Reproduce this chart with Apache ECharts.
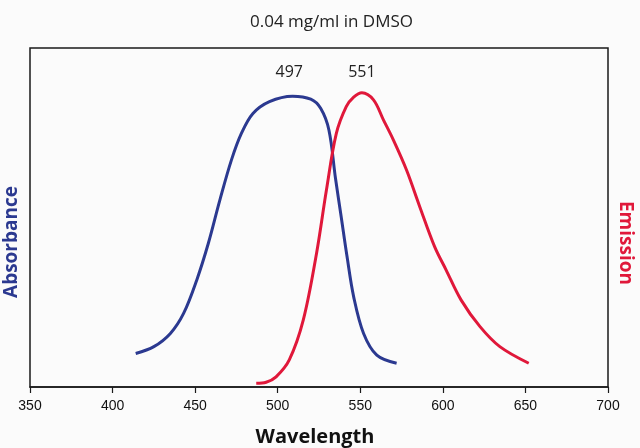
<!DOCTYPE html>
<html>
<head>
<meta charset="utf-8">
<style>
  html, body { margin: 0; padding: 0; background: #fbfbfb; }
  #chart { width: 640px; height: 448px; }
</style>
<script src="https://cdn.jsdelivr.net/npm/echarts@6/dist/echarts.min.js"></script>
</head>
<body>
<div id="chart"></div>
<script>
// wavelength (nm) / relative intensity
var absWl = [414, 425, 435, 443, 451, 458, 465, 472, 478, 485, 495, 509, 520, 526, 531, 535, 538.5, 542, 546, 552, 560, 572];
var absVal = [0.099, 0.119, 0.158, 0.217, 0.316, 0.424, 0.552, 0.670, 0.748, 0.807, 0.842, 0.858, 0.849, 0.822, 0.758, 0.615, 0.500, 0.384, 0.266, 0.158, 0.094, 0.070];

var emWl = [487, 493, 499, 507, 515.5, 523.5, 529.5, 535.5, 541.5, 546, 551, 558, 564, 570, 578, 586, 595, 602, 611, 622.5, 634.5, 652];
var emVal = [0.011, 0.014, 0.030, 0.080, 0.198, 0.394, 0.581, 0.748, 0.827, 0.855, 0.868, 0.847, 0.788, 0.729, 0.640, 0.532, 0.414, 0.345, 0.257, 0.178, 0.119, 0.070];

var xTicks = [350, 700, 50];   // min, max, step
var peakLabels = ['497', '551'];
var peakLabelPos = [[507, 0.929], [551, 0.929]];

function pairs(xs, ys) {
  var out = [];
  for (var i = 0; i < xs.length; i++) out.push([xs[i], ys[i]]);
  return out;
}

var chart = echarts.init(document.getElementById('chart'));

var option = {
  backgroundColor: '#fbfbfb',
  animation: false,
  title: {
    text: '0.04 mg/ml in DMSO',
    left: 245,
    top: 9,
    textStyle: { fontFamily: 'Open Sans', fontSize: 17, fontWeight: 'normal', color: '#222' }
  },
  grid: {
    left: 30, right: 32, top: 48, bottom: 61,
    outerBoundsMode: 'none',
    containLabel: false,
    show: true,
    borderColor: '#1a1a1a',
    borderWidth: 1.5,
    backgroundColor: 'transparent'
  },
  graphic: [
    {
      type: 'text', x: 12, y: 242, rotation: Math.PI / 2,
      style: {
        text: 'Absorbance', fill: '#2b3990',
        font: 'bold 19px "Open Sans"',
        textAlign: 'center', textVerticalAlign: 'middle'
      }
    },
    {
      type: 'text', x: 625, y: 243, rotation: -Math.PI / 2,
      style: {
        text: 'Emission', fill: '#e0183a',
        font: 'bold 19px "Open Sans"',
        textAlign: 'center', textVerticalAlign: 'middle'
      }
    }
  ],
  xAxis: {
    type: 'value',
    min: xTicks[0],
    max: xTicks[1],
    interval: xTicks[2],
    name: 'Wavelength',
    nameLocation: 'middle',
    nameGap: 40,
    nameTextStyle: { fontFamily: 'Open Sans', fontSize: 20, fontWeight: 'bold', color: '#111', padding: [0, 8, 0, 0] },
    axisLine: { lineStyle: { color: '#1a1a1a', width: 1.5 } },
    axisTick: { length: 6, lineStyle: { color: '#1a1a1a', width: 1.2 } },
    axisLabel: { fontFamily: 'Liberation Sans', fontSize: 14, color: '#111', margin: 12 },
    splitLine: { show: false }
  },
  yAxis: {
    type: 'value', min: 0, max: 1,
    axisLine: { show: false }, axisTick: { show: false },
    axisLabel: { show: false }, splitLine: { show: false }
  },
  series: [
    {
      name: 'Absorbance',
      type: 'line',
      smooth: 0.35,
      showSymbol: false,
      data: pairs(absWl, absVal),
      lineStyle: { color: '#2b3990', width: 3 },
      itemStyle: { color: '#2b3990' },
      markPoint: {
        symbol: 'circle', symbolSize: 0,
        label: { show: true, formatter: '{b}', fontFamily: 'Open Sans', fontSize: 16, color: '#222' },
        data: [{ name: peakLabels[0], coord: peakLabelPos[0] }]
      }
    },
    {
      name: 'Emission',
      type: 'line',
      smooth: 0.35,
      showSymbol: false,
      data: pairs(emWl, emVal),
      lineStyle: { color: '#e0183a', width: 3 },
      itemStyle: { color: '#e0183a' },
      markPoint: {
        symbol: 'circle', symbolSize: 0,
        label: { show: true, formatter: '{b}', fontFamily: 'Open Sans', fontSize: 16, color: '#222' },
        data: [{ name: peakLabels[1], coord: peakLabelPos[1] }]
      }
    }
  ]
};

chart.setOption(option);
</script>
</body>
</html>
